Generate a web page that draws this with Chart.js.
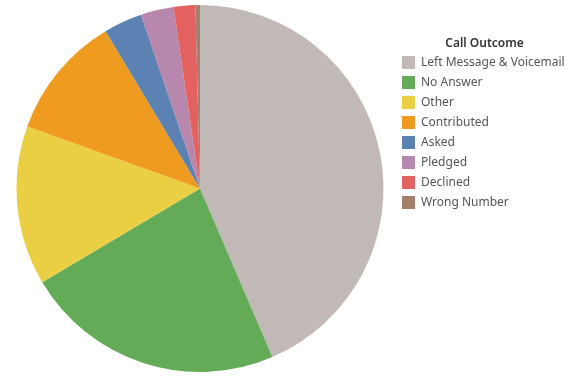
<!DOCTYPE html>
<html>
<head>
<meta charset="utf-8">
<script src="https://cdn.jsdelivr.net/npm/chart.js@4.4.1/dist/chart.umd.min.js"></script>
<style>
  body { margin: 0; background: #ffffff; }
  #wrap { width: 584px; height: 390px; }
</style>
</head>
<body>
<div id="wrap"><canvas id="pie_chart" width="584" height="390"></canvas></div>
<script>
// share of calls by outcome, in percent
let outcomes = ['Left Message & Voicemail', 'No Answer', 'Other', 'Contributed', 'Asked', 'Pledged', 'Declined', 'Wrong Number'];
let shares = [43.5, 22.9, 14.0, 10.9, 3.4, 2.9, 1.9, 0.4];
let outcome_colors = ['#c0b9b5', '#63ab57', '#ebcf43', '#ef9b20', '#5b82b2', '#b787ad', '#e3625f', '#a47f69'];

var pie_chart_context = document.getElementById('pie_chart').getContext('2d');
var pie_chart = new Chart(pie_chart_context, {
    type: 'pie',
    data: {
        labels: outcomes,
        datasets: [{
            data: shares,
            backgroundColor: outcome_colors,
            borderWidth: 0
        }]
    },
    options: {
        responsive: false,
        animation: false,
        layout: {
            padding: { top: 5, bottom: 18, left: 5, right: 10 }
        },
        plugins: {
            legend: {
                display: true,
                position: 'right',
                align: 'start',
                maxWidth: 179,
                title: {
                    display: true,
                    text: 'Call Outcome',
                    color: '#333333',
                    padding: { top: 33, bottom: 1 },
                    font: {
                        size: 12,
                        weight: '600',
                        family: 'Noto Sans',
                        lineHeight: '10px'
                    }
                },
                labels: {
                    boxWidth: 13,
                    boxHeight: 13,
                    padding: 7,
                    color: '#555555',
                    font: {
                        size: 12,
                        family: 'Noto Sans'
                    }
                }
            },
            tooltip: {
                enabled: false
            }
        }
    }
});
</script>
</body>
</html>
